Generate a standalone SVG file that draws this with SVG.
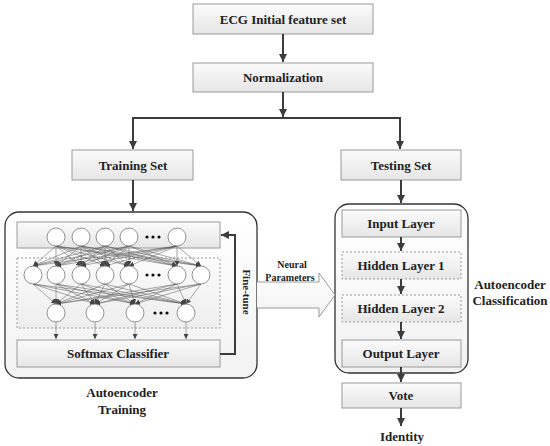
<svg xmlns="http://www.w3.org/2000/svg" width="550" height="446" viewBox="0 0 550 446">
<defs>
<linearGradient id="g" x1="0" y1="0" x2="0" y2="1"><stop offset="0" stop-color="#fbfbfb"/><stop offset="1" stop-color="#e6e6e6"/></linearGradient>
<linearGradient id="g2" x1="0" y1="0" x2="0" y2="1"><stop offset="0" stop-color="#ffffff"/><stop offset="1" stop-color="#f2f2f2"/></linearGradient>
<marker id="a" viewBox="0 0 10 10" refX="10" refY="5" markerWidth="4" markerHeight="4" orient="auto" markerUnits="strokeWidth"><path d="M0,0 L10,5 L0,10 z" fill="#3c3c3c"/></marker>
<marker id="s" viewBox="0 0 10 10" refX="10" refY="5" markerWidth="5" markerHeight="5" orient="auto" markerUnits="userSpaceOnUse"><path d="M0,0 L10,5 L0,10 z" fill="#444"/></marker>
</defs>
<style>
.box{fill:url(#g);stroke:#9a9a9a;stroke-width:1}
.dbox{fill:url(#g);stroke:#9a9a9a;stroke-width:1;stroke-dasharray:2,2}
.outer{fill:url(#g2);stroke:#333;stroke-width:1.3}
.t{font-family:"Liberation Serif",serif;font-weight:bold;font-size:13px;fill:#222;text-anchor:middle}
.ts{font-family:"Liberation Serif",serif;font-weight:bold;font-size:10px;fill:#222;text-anchor:middle}
.c{stroke:#3c3c3c;stroke-width:2;fill:none}
.n{fill:#fff;stroke:#777;stroke-width:0.8}
.e line{stroke:#555;stroke-width:0.5;marker-end:url(#s)}
.dot{fill:#111}
</style>

<g id="ecg"><rect class="box" x="193" y="4" width="180" height="30"/><text class="t" x="283" y="23.5">ECG Initial feature set</text></g>
<g id="norm"><rect class="box" x="193" y="63" width="180" height="29"/><text class="t" x="283" y="82">Normalization</text></g>
<g id="train"><rect class="box" x="72" y="150" width="121" height="30"/><text class="t" x="133" y="169.5">Training Set</text></g>
<g id="test"><rect class="box" x="341" y="150" width="120" height="30"/><text class="t" x="401" y="169.5">Testing Set</text></g>

<g id="ae-training">
<rect class="outer" x="5" y="212" width="252" height="166" rx="14"/>
<rect class="box" x="17" y="222" width="203" height="26"/>
<rect class="dbox" x="17" y="258" width="203" height="70" fill-opacity="0.5"/>
<rect class="box" x="17" y="340" width="203" height="27"/>
<text class="t" x="118" y="358">Softmax Classifier</text>
<g id="edges" class="e">
<line x1="56" y1="246" x2="33" y2="266"/><line x1="56" y1="246" x2="56" y2="266"/><line x1="56" y1="246" x2="81" y2="266"/><line x1="56" y1="246" x2="105" y2="266"/><line x1="56" y1="246" x2="129" y2="266"/><line x1="56" y1="246" x2="177" y2="266"/><line x1="56" y1="246" x2="201" y2="266"/>
<line x1="81" y1="246" x2="33" y2="266"/><line x1="81" y1="246" x2="56" y2="266"/><line x1="81" y1="246" x2="81" y2="266"/><line x1="81" y1="246" x2="105" y2="266"/><line x1="81" y1="246" x2="129" y2="266"/><line x1="81" y1="246" x2="177" y2="266"/><line x1="81" y1="246" x2="201" y2="266"/>
<line x1="105" y1="246" x2="33" y2="266"/><line x1="105" y1="246" x2="56" y2="266"/><line x1="105" y1="246" x2="81" y2="266"/><line x1="105" y1="246" x2="105" y2="266"/><line x1="105" y1="246" x2="129" y2="266"/><line x1="105" y1="246" x2="177" y2="266"/><line x1="105" y1="246" x2="201" y2="266"/>
<line x1="129" y1="246" x2="33" y2="266"/><line x1="129" y1="246" x2="56" y2="266"/><line x1="129" y1="246" x2="81" y2="266"/><line x1="129" y1="246" x2="105" y2="266"/><line x1="129" y1="246" x2="129" y2="266"/><line x1="129" y1="246" x2="177" y2="266"/><line x1="129" y1="246" x2="201" y2="266"/>
<line x1="177" y1="246" x2="33" y2="266"/><line x1="177" y1="246" x2="56" y2="266"/><line x1="177" y1="246" x2="81" y2="266"/><line x1="177" y1="246" x2="105" y2="266"/><line x1="177" y1="246" x2="129" y2="266"/><line x1="177" y1="246" x2="177" y2="266"/><line x1="177" y1="246" x2="201" y2="266"/>
<line x1="33" y1="284" x2="56" y2="304"/><line x1="33" y1="284" x2="95" y2="304"/><line x1="33" y1="284" x2="135" y2="304"/><line x1="33" y1="284" x2="186" y2="304"/>
<line x1="56" y1="284" x2="56" y2="304"/><line x1="56" y1="284" x2="95" y2="304"/><line x1="56" y1="284" x2="135" y2="304"/><line x1="56" y1="284" x2="186" y2="304"/>
<line x1="81" y1="284" x2="56" y2="304"/><line x1="81" y1="284" x2="95" y2="304"/><line x1="81" y1="284" x2="135" y2="304"/><line x1="81" y1="284" x2="186" y2="304"/>
<line x1="105" y1="284" x2="56" y2="304"/><line x1="105" y1="284" x2="95" y2="304"/><line x1="105" y1="284" x2="135" y2="304"/><line x1="105" y1="284" x2="186" y2="304"/>
<line x1="129" y1="284" x2="56" y2="304"/><line x1="129" y1="284" x2="95" y2="304"/><line x1="129" y1="284" x2="135" y2="304"/><line x1="129" y1="284" x2="186" y2="304"/>
<line x1="177" y1="284" x2="56" y2="304"/><line x1="177" y1="284" x2="95" y2="304"/><line x1="177" y1="284" x2="135" y2="304"/><line x1="177" y1="284" x2="186" y2="304"/>
<line x1="201" y1="284" x2="56" y2="304"/><line x1="201" y1="284" x2="95" y2="304"/><line x1="201" y1="284" x2="135" y2="304"/><line x1="201" y1="284" x2="186" y2="304"/>
<line x1="56" y1="322" x2="56" y2="339"/><line x1="95" y1="322" x2="95" y2="339"/><line x1="135" y1="322" x2="135" y2="339"/><line x1="186" y1="322" x2="186" y2="339"/>
</g>
<g id="nodes">
<circle class="n" cx="56" cy="237" r="9"/><circle class="n" cx="81" cy="237" r="9"/><circle class="n" cx="105" cy="237" r="9"/><circle class="n" cx="129" cy="237" r="9"/><circle class="n" cx="177" cy="237" r="9"/>
<circle class="dot" cx="147" cy="237" r="1.6"/><circle class="dot" cx="153" cy="237" r="1.6"/><circle class="dot" cx="159" cy="237" r="1.6"/>
<circle class="n" cx="33" cy="275" r="9"/><circle class="n" cx="56" cy="275" r="9"/><circle class="n" cx="81" cy="275" r="9"/><circle class="n" cx="105" cy="275" r="9"/><circle class="n" cx="129" cy="275" r="9"/><circle class="n" cx="177" cy="275" r="9"/><circle class="n" cx="201" cy="275" r="9"/>
<circle class="dot" cx="147" cy="275" r="1.6"/><circle class="dot" cx="153" cy="275" r="1.6"/><circle class="dot" cx="159" cy="275" r="1.6"/>
<circle class="n" cx="56" cy="313" r="9"/><circle class="n" cx="95" cy="313" r="9"/><circle class="n" cx="135" cy="313" r="9"/><circle class="n" cx="186" cy="313" r="9"/>
<circle class="dot" cx="155" cy="313" r="1.6"/><circle class="dot" cx="161" cy="313" r="1.6"/><circle class="dot" cx="167" cy="313" r="1.6"/>
</g>
<text class="ts" style="font-size:11px" transform="translate(243,292) rotate(90)">Fine-tune</text>
</g>
<text class="t" x="122" y="397">Autoencoder</text>
<text class="t" x="122" y="414">Training</text>

<g id="ae-class">
<rect class="outer" x="335" y="204" width="133" height="169" rx="14"/>
<g id="input"><rect class="box" x="342" y="210" width="119" height="27"/><text class="t" x="401" y="228">Input Layer</text></g>
<g id="h1"><rect class="dbox" x="342" y="252" width="119" height="27"/><text class="t" x="401" y="270">Hidden Layer 1</text></g>
<g id="h2"><rect class="dbox" x="342" y="295" width="119" height="27"/><text class="t" x="401" y="313">Hidden Layer 2</text></g>
<g id="output"><rect class="box" x="342" y="340" width="119" height="27"/><text class="t" x="401" y="358">Output Layer</text></g>
</g>
<text class="t" x="510" y="289">Autoencoder</text>
<text class="t" x="510" y="305">Classification</text>
<g id="vote"><rect class="box" x="342" y="383" width="119" height="25"/><text class="t" x="401" y="400">Vote</text></g>
<text class="t" x="402" y="441">Identity</text>

<g id="params">
<path d="M257,282 L319,282 L319,273 L335,295 L319,317 L319,308 L257,308" fill="url(#g2)" stroke="#999" stroke-width="1"/>
<text class="ts" x="292" y="268">Neural</text>
<text class="ts" x="290" y="281">Parameters</text>
</g>

<g id="connectors">
<path class="c" d="M283,34 V62" marker-end="url(#a)"/>
<path class="c" d="M283,92 V117" marker-end="url(#a)"/>
<path class="c" d="M133,149 V118 H400 V149" marker-end="url(#a)"/>
<path class="c" d="M133,118 V149" marker-end="url(#a)"/>
<path class="c" d="M133,180 V211" marker-end="url(#a)"/>
<path class="c" d="M401,180 V203" marker-end="url(#a)"/>
<path class="c" d="M401,237 V251" marker-end="url(#a)"/>
<path class="c" d="M401,279 V294" marker-end="url(#a)"/>
<path class="c" d="M401,322 V339" marker-end="url(#a)"/>
<path class="c" d="M401,367 V382" marker-end="url(#a)"/>
<path class="c" d="M401,408 V426" marker-end="url(#a)"/>
<path class="c" d="M220,354 H235 V235 H221" marker-end="url(#a)"/>
</g>
</svg>
